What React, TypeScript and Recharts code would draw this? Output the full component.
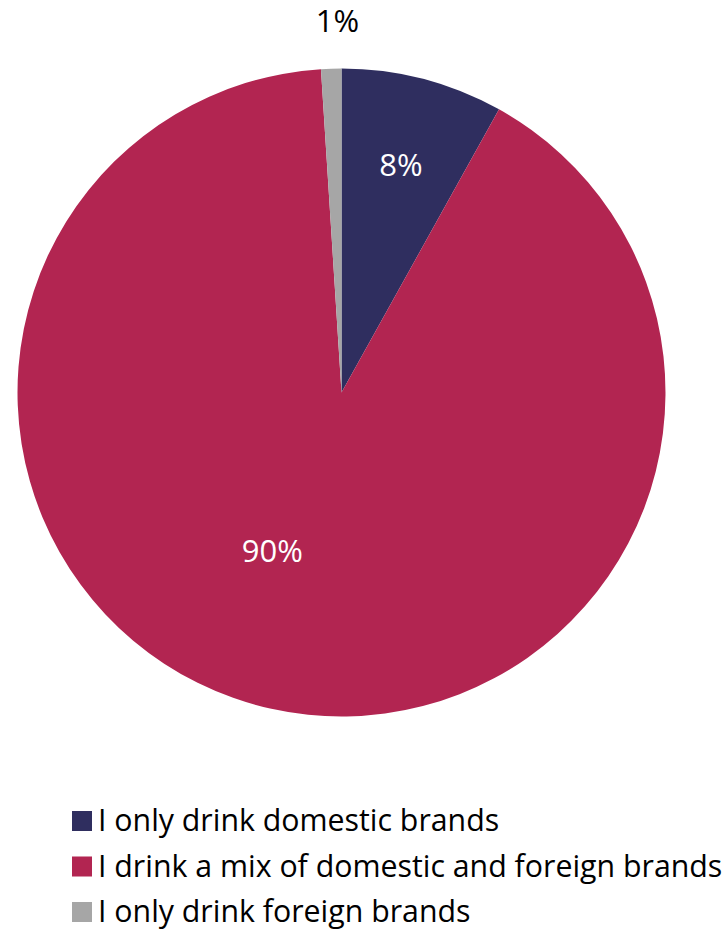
import { PieChart, Pie, Cell, Legend } from "recharts";

const categories = [
  "I only drink domestic brands",
  "I drink a mix of domestic and foreign brands",
  "I only drink foreign brands",
];
const shares = [8, 90, 1];
const colors = ["#2F2E5F", "#B22551", "#A6A6A6"];

const data = categories.map((name, i) => ({ name, value: shares[i] }));

const RADIAN = Math.PI / 180;
const FONT = "'Open Sans', 'Noto Sans', sans-serif";

// where each label sits: fraction of outer radius (or px outside), plus angle nudge
const labelPlacement = [
  { inside: true, r: 0.73, shift: 0 },
  { inside: true, r: 0.53, shift: -11 },
  { inside: false, r: 49, shift: -1.2 },
];

const renderLabel = (props: any) => {
  const { cx, cy, midAngle, outerRadius, index, value } = props;
  const p = labelPlacement[index];
  const radius = p.inside ? outerRadius * p.r : outerRadius + p.r;
  const angle = midAngle + p.shift;
  const x = cx + radius * Math.cos(-angle * RADIAN);
  const y = cy + radius * Math.sin(-angle * RADIAN);
  return (
    <text
      x={x}
      y={y}
      fill={p.inside ? "#ffffff" : "#000000"}
      textAnchor="middle"
      dominantBaseline="central"
      fontFamily={FONT}
      fontSize={31}
    >
      {`${value}%`}
    </text>
  );
};

const renderLegend = () => (
  <svg width={728} height={130}>
    {categories.map((c, i) => (
      <g key={c}>
        <rect x={72} y={11 + i * 45.5} width={20} height={20} fill={colors[i]} />
        <text
          x={98}
          y={31 + i * 45.5}
          fontFamily={FONT}
          fontSize={30.3}
          fill="#000000"
        >
          {c}
        </text>
      </g>
    ))}
  </svg>
);

export default function App() {
  return (
    <div style={{ position: "absolute", top: 0, left: 0, background: "#fff" }}>
      <PieChart
        width={728}
        height={930}
        margin={{ top: 0, right: 0, bottom: 0, left: 0 }}
      >
        <Pie
          data={data}
          dataKey="value"
          nameKey="name"
          cx={341.5}
          cy={392.5}
          outerRadius={324}
          startAngle={90}
          endAngle={-270}
          stroke="none"
          label={renderLabel}
          labelLine={false}
          isAnimationActive={false}
        >
          {data.map((d, i) => (
            <Cell key={d.name} fill={colors[i]} />
          ))}
        </Pie>
        <Legend
          content={renderLegend}
          wrapperStyle={{ position: "absolute", top: 800, left: 0, width: 728 }}
        />
      </PieChart>
    </div>
  );
}
